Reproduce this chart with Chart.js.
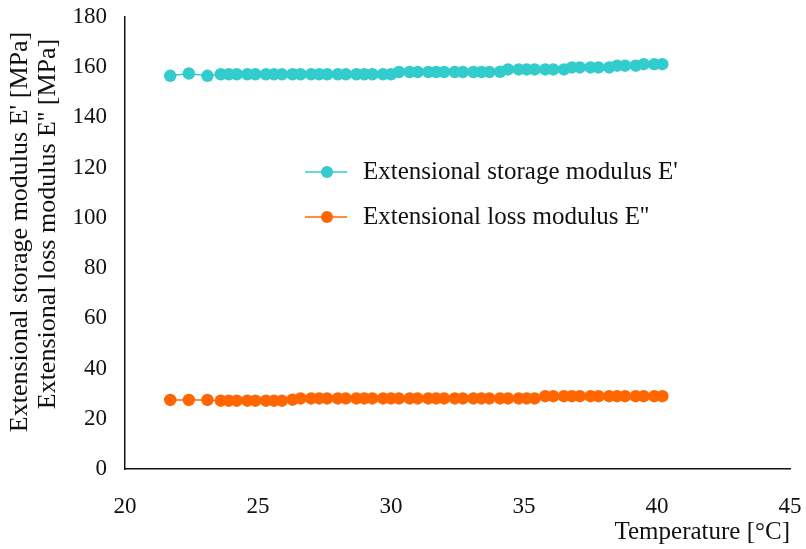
<!DOCTYPE html>
<html>
<head>
<meta charset="utf-8">
<script src="https://cdn.jsdelivr.net/npm/chart.js@4"></script>
<style>
  body { margin: 0; background: #fff; }
  #wrap { width: 806px; height: 549px; }
</style>
</head>
<body>
<div id="wrap"><canvas id="myChart" width="806" height="549"></canvas></div>
<script>
// temperature [°C]
const temps = [21.7, 22.4, 23.1, 23.6, 23.9, 24.2, 24.6, 24.9, 25.3, 25.6, 25.9, 26.3, 26.6,
  27.0, 27.3, 27.6, 28.0, 28.3, 28.7, 29.0, 29.3, 29.7, 30.0, 30.3, 30.7, 31.0, 31.4, 31.7,
  32.0, 32.4, 32.7, 33.1, 33.4, 33.7, 34.1, 34.4, 34.8, 35.1, 35.4, 35.8, 36.1, 36.5, 36.8,
  37.1, 37.5, 37.8, 38.2, 38.5, 38.8, 39.2, 39.5, 39.9, 40.2];

// E' [MPa]
const storage = [156.6, 157.5, 156.6, 157.2, 157.2, 157.2, 157.2, 157.2, 157.2, 157.2, 157.2, 157.2, 157.2,
  157.2, 157.2, 157.2, 157.2, 157.2, 157.2, 157.2, 157.2, 157.2, 157.2, 158.1, 158.1, 158.1, 158.1, 158.1,
  158.1, 158.1, 158.1, 158.1, 158.1, 158.1, 158.2, 159.1, 159.1, 159.1, 159.1, 159.1, 159.1, 159.1, 159.9,
  159.9, 159.9, 159.9, 159.9, 160.6, 160.6, 160.6, 161.2, 161.2, 161.2];

// E'' [MPa]
const loss = [27.5, 27.5, 27.5, 27.2, 27.2, 27.2, 27.2, 27.2, 27.2, 27.2, 27.2, 27.6, 28.1,
  28.1, 28.1, 28.1, 28.1, 28.1, 28.1, 28.1, 28.1, 28.1, 28.1, 28.1, 28.1, 28.1, 28.1, 28.1,
  28.1, 28.1, 28.1, 28.1, 28.1, 28.1, 28.1, 28.1, 28.1, 28.1, 28.1, 29.0, 29.0, 29.0, 29.0,
  29.0, 29.0, 29.0, 29.0, 29.0, 29.0, 29.0, 29.0, 29.0, 29.0];

const seriesNames = ["Extensional storage modulus E'", "Extensional loss modulus E''"];
const seriesColors = ["#33CCCC", "#FF6600"];
const yTitles = ["Extensional storage modulus E' [MPa]", "Extensional loss modulus E'' [MPa]"];

const serif = "'Liberation Serif', 'Times New Roman', serif";
const textColor = "#111";

// legend inside the plot + two-line y title
const extras = {
  id: "extras",
  afterDraw(chart) {
    const ctx = chart.ctx;
    const rows = [172, 217];
    ctx.save();
    seriesNames.forEach((name, i) => {
      const y = rows[i];
      ctx.strokeStyle = seriesColors[i];
      ctx.lineWidth = 1.5;
      ctx.beginPath();
      ctx.moveTo(305, y);
      ctx.lineTo(347, y);
      ctx.stroke();
      ctx.fillStyle = seriesColors[i];
      ctx.beginPath();
      ctx.arc(327, y, 6, 0, Math.PI * 2);
      ctx.fill();
      ctx.fillStyle = textColor;
      ctx.font = "25px " + serif;
      ctx.textBaseline = "middle";
      ctx.textAlign = "left";
      ctx.fillText(name, 363, y);
    });

    const titlePos = [[20, 232], [48, 224]];
    ctx.font = "26px " + serif;
    ctx.fillStyle = textColor;
    ctx.textAlign = "center";
    ctx.textBaseline = "middle";
    yTitles.forEach((t, i) => {
      ctx.save();
      ctx.translate(titlePos[i][0], titlePos[i][1]);
      ctx.rotate(-Math.PI / 2);
      ctx.fillText(t, 0, 0);
      ctx.restore();
    });
    ctx.restore();
  }
};

function makeChart() {
  const ctx = document.getElementById("myChart").getContext("2d");
  const myChart = new Chart(ctx, {
    type: "scatter",
    data: {
      datasets: [storage, loss].map((vals, i) => {
        return {
          label: seriesNames[i],
          data: temps.map((t, j) => ({ x: t, y: vals[j] })),
          showLine: true,
          borderColor: seriesColors[i],
          backgroundColor: seriesColors[i],
          borderWidth: 1.5,
          pointRadius: 6.2,
          pointHoverRadius: 6.2,
          pointBorderWidth: 0,
          tension: 0,
        };
      }),
    },
    options: {
      responsive: false,
      animation: false,
      layout: { padding: { left: 0, right: 16, top: 17, bottom: 0 } },
      plugins: {
        legend: { display: false },
        tooltip: { enabled: false },
      },
      scales: {
        x: {
          type: "linear",
          min: 20,
          max: 45,
          ticks: {
            stepSize: 5,
            color: textColor,
            padding: 24,
            font: { family: serif, size: 23 },
          },
          grid: { display: false, drawTicks: false },
          border: { color: "#111", width: 1.5 },
          title: {
            display: true,
            text: "Temperature [°C]",
            align: "end",
            color: textColor,
            padding: { top: 0, bottom: 2 },
            font: { family: serif, size: 25 },
          },
          afterFit: (scale) => {
            scale.height = 80;
            scale.paddingLeft = 0;
            scale.paddingRight = 0;
          },
        },
        y: {
          min: 0,
          max: 180,
          ticks: {
            stepSize: 20,
            color: textColor,
            padding: 18,
            font: { family: serif, size: 23 },
          },
          grid: { display: false, drawTicks: false },
          border: { color: "#111", width: 1.5 },
          afterFit: (scale) => {
            scale.width = 125;
            scale.paddingTop = 0;
            scale.paddingBottom = 0;
          },
        },
      },
    },
    plugins: [extras],
  });
}

makeChart();
</script>
</body>
</html>
